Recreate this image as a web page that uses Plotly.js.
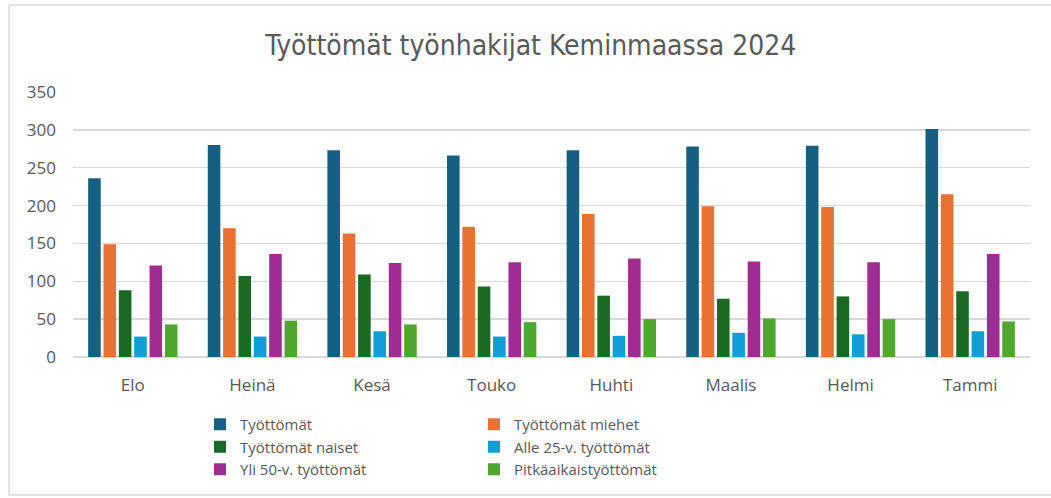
<!DOCTYPE html>
<html>
<head>
<meta charset="utf-8">
<script src="https://cdn.plot.ly/plotly-3.0.1.min.js"></script>
<style>
html,body{margin:0;padding:0;background:#fff;}
#wrap{position:relative;width:1051px;height:498px;overflow:hidden;}
#chart{position:absolute;left:0;top:0;width:1051px;height:498px;}
#frame{position:absolute;left:8px;top:4px;width:1100px;height:488px;border:2px solid #e4e4e4;pointer-events:none;}
</style>
</head>
<body>
<div id="wrap"><div id="chart"></div><div id="frame"></div></div>
<script>
const months = ["Elo", "Heinä", "Kesä", "Touko", "Huhti", "Maalis", "Helmi", "Tammi"];
const tyottomat = [236, 280, 273, 266, 273, 278, 279, 301];
const miehet = [149, 170, 163, 172, 189, 199, 198, 215];
const naiset = [88, 107, 109, 93, 81, 77, 80, 87];
const alle25 = [27, 27, 34, 27, 28, 32, 30, 34];
const yli50 = [121, 136, 124, 125, 130, 126, 125, 136];
const pitka = [43, 48, 43, 46, 50, 51, 50, 47];
const seriesNames = ["Työttömät", "Työttömät miehet", "Työttömät naiset", "Alle 25-v. työttömät", "Yli 50-v. työttömät", "Pitkäaikaistyöttömät"];
const yTicks = [0, 50, 100, 150, 200, 250, 300, 350];

const colors = ["#156082", "#E97132", "#196B24", "#0F9ED5", "#A02B93", "#4EA72E"];
const values = [tyottomat, miehet, naiset, alle25, yli50, pitka];
const legendIds = ["legend", "legend2", "legend", "legend2", "legend", "legend2"];
const FONT = "'Open Sans', Lato, 'DejaVu Sans', sans-serif";

const traces = values.map((v, i) => ({
  type: "bar",
  name: seriesNames[i],
  x: months,
  y: v,
  marker: {color: colors[i], line: {width: 0}},
  legend: legendIds[i],
  hoverinfo: "x+y+name"
}));

const legendCommon = {
  orientation: "v",
  xref: "container", yref: "container",
  yanchor: "top", xanchor: "left",
  font: {family: FONT, size: 15, color: "#595959"},
  bgcolor: "rgba(0,0,0,0)",
  itemwidth: 30,
  tracegroupgap: 0,
  traceorder: "normal"
};

const layout = {
  width: 1051, height: 498,
  paper_bgcolor: "#ffffff", plot_bgcolor: "#ffffff",
  margin: {l: 73, r: 21, t: 92, b: 141, autoexpand: false},
  font: {family: FONT, color: "#595959"},
  title: {
    text: "Työttömät työnhakijat Keminmaassa 2024",
    font: {family: "'Liberation Sans Narrow', 'DejaVu Sans Condensed', 'Arial Narrow', sans-serif", size: 28, color: "#595959"},
    xref: "container", x: 0.505, xanchor: "center",
    yref: "container", y: 1 - 45/498, yanchor: "middle"
  },
  barmode: "group",
  bargap: 0.23,
  bargroupgap: 0.18,
  xaxis: {
    type: "category",
    showgrid: false,
    showline: false,
    zeroline: false,
    ticks: "",
    tickfont: {family: FONT, size: 17, color: "#595959"},
    ticklabelstandoff: 16
  },
  yaxis: {
    range: [0, 350],
    tickvals: yTicks,
    ticktext: yTicks.map(String),
    showgrid: true,
    gridcolor: "#d9d9d9",
    gridwidth: 1.3,
    zeroline: true,
    zerolinecolor: "#d9d9d9",
    zerolinewidth: 1.3,
    showline: false,
    ticks: "",
    tickfont: {family: FONT, size: 17, color: "#595959"},
    ticklabelstandoff: 16
  },
  showlegend: true,
  legend: Object.assign({}, legendCommon, {x: 200/1051, y: 1 - 408/498}),
  legend2: Object.assign({}, legendCommon, {x: 474/1051, y: 1 - 408/498})
};

Plotly.newPlot("chart", traces, layout, {displayModeBar: false, staticPlot: true});
</script>
</body>
</html>
